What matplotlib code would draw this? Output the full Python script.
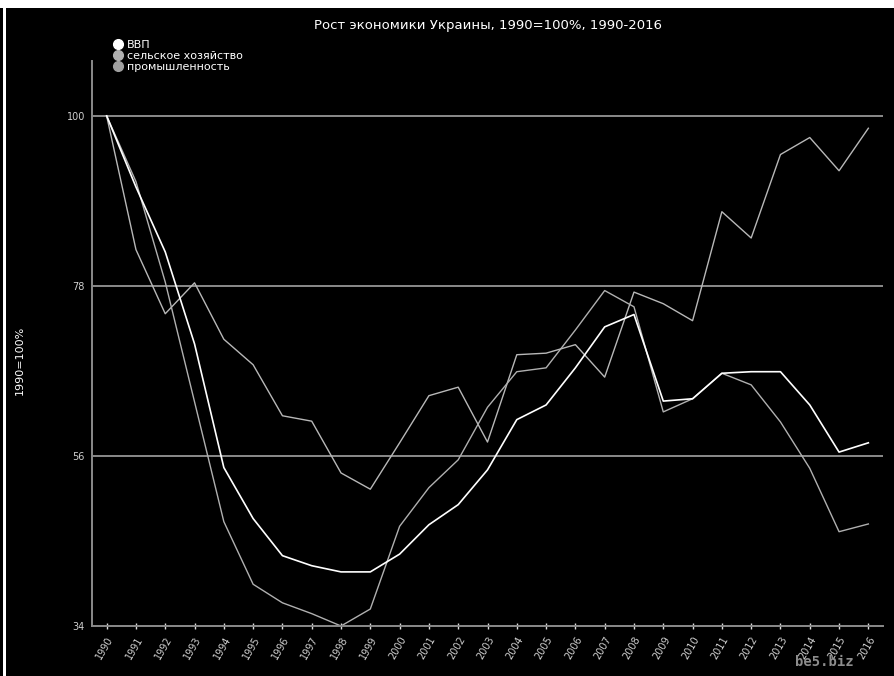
import numpy as np
import matplotlib
matplotlib.use("Agg")
import matplotlib.pyplot as plt
from matplotlib.lines import Line2D
from matplotlib.patches import Rectangle

years = list(range(1990, 2017))

# ВВП
gdp = [100, 90.8, 82.4, 70.5, 54.5, 47.9, 43.1, 41.8, 41.0, 41.0,
       43.3, 47.1, 49.7, 54.2, 60.7, 62.6, 67.4, 72.7, 74.3, 63.1,
       63.4, 66.7, 66.9, 66.9, 62.6, 56.5, 57.7]
# сельское хозяйство
agri = [100, 82.7, 74.4, 78.4, 71.1, 67.8, 61.2, 60.5, 53.8, 51.7,
        57.7, 63.8, 64.9, 57.8, 69.1, 69.3, 70.4, 66.2, 77.2, 75.7,
        73.5, 87.6, 84.2, 95.0, 97.2, 92.9, 98.4]
# промышленность
industry = [100, 91.5, 78.5, 63.0, 47.5, 39.4, 37.0, 35.6, 34.0, 36.2,
            46.9, 51.9, 55.5, 62.3, 66.9, 67.4, 72.3, 77.4, 75.3, 61.7,
            63.4, 66.7, 65.2, 60.4, 54.4, 46.2, 47.2]

labels = ["ВВП", "сельское хозяйство", "промышленность"]
yticks = [34, 56, 78, 100]

fig = plt.figure(figsize=(8.94, 6.76), dpi=100, facecolor="black")
# white frame at top and left like in the screenshot
fig.patches.append(Rectangle((0, 1 - 8 / 676), 1, 8 / 676, transform=fig.transFigure,
                             facecolor="white", edgecolor="none", zorder=0))
fig.patches.append(Rectangle((3 / 894, 0), 3 / 894, 1, transform=fig.transFigure,
                             facecolor="white", edgecolor="none", zorder=0))

ax = fig.add_axes([92 / 894, 1 - 626 / 676, (883 - 92) / 894, (626 - 61) / 676])
ax.set_facecolor("black")

for y in yticks[1:]:
    ax.axhline(y, color="#8a8a8a", lw=1.4, zorder=1)

ax.plot(years, agri, color="#b8b8b8", lw=1.0, zorder=2)
ax.plot(years, industry, color="#b0b0b0", lw=1.0, zorder=2)
ax.plot(years, gdp, color="white", lw=1.2, zorder=3)

ax.set_xlim(1989.5, 2016.5)
ax.set_ylim(34, 107.1)

for s in ["top", "right"]:
    ax.spines[s].set_visible(False)
for s in ["left", "bottom"]:
    ax.spines[s].set_color("#8a8a8a")
    ax.spines[s].set_linewidth(1.4)

ax.set_yticks(yticks)
ax.set_yticklabels([str(v) for v in yticks], fontsize=7, color="#d0d0d0")
ax.tick_params(axis="y", length=0, pad=5)

ax.set_xticks(years)
ax.set_xticklabels([str(y) for y in years], fontsize=7, color="#d0d0d0",
                   rotation=60, ha="right", rotation_mode="anchor")
ax.tick_params(axis="x", length=4, width=1, color="#dddddd", direction="inout", pad=4)

fig.text(488 / 894, 1 - 25 / 676, "Рост экономики Украины, 1990=100%, 1990-2016",
         ha="center", va="center", fontsize=9.5, color="white")
fig.text(20 / 894, 1 - 360 / 676, "1990=100%", rotation=90, ha="center", va="center",
         fontsize=8, color="white")

handles = [
    Line2D([], [], marker="o", ls="none", color="white", markersize=7),
    Line2D([], [], marker="o", ls="none", color="#b0b0b0", markersize=7),
    Line2D([], [], marker="o", ls="none", color="#a0a0a0", markersize=7),
]
leg = fig.legend(handles, labels, loc="upper left", bbox_to_anchor=(106 / 894, 1 - 34 / 676),
                 frameon=False, fontsize=8, labelspacing=0.12, handletextpad=0.2,
                 handlelength=1.2, borderpad=0, labelcolor="white")

fig.text(824 / 894, 1 - 662 / 676, "be5.biz", ha="center", va="center",
         fontsize=10, color="#8c8c8c", family="DejaVu Sans Mono", weight="bold")

fig.savefig("out.png", dpi=100, facecolor="black")
